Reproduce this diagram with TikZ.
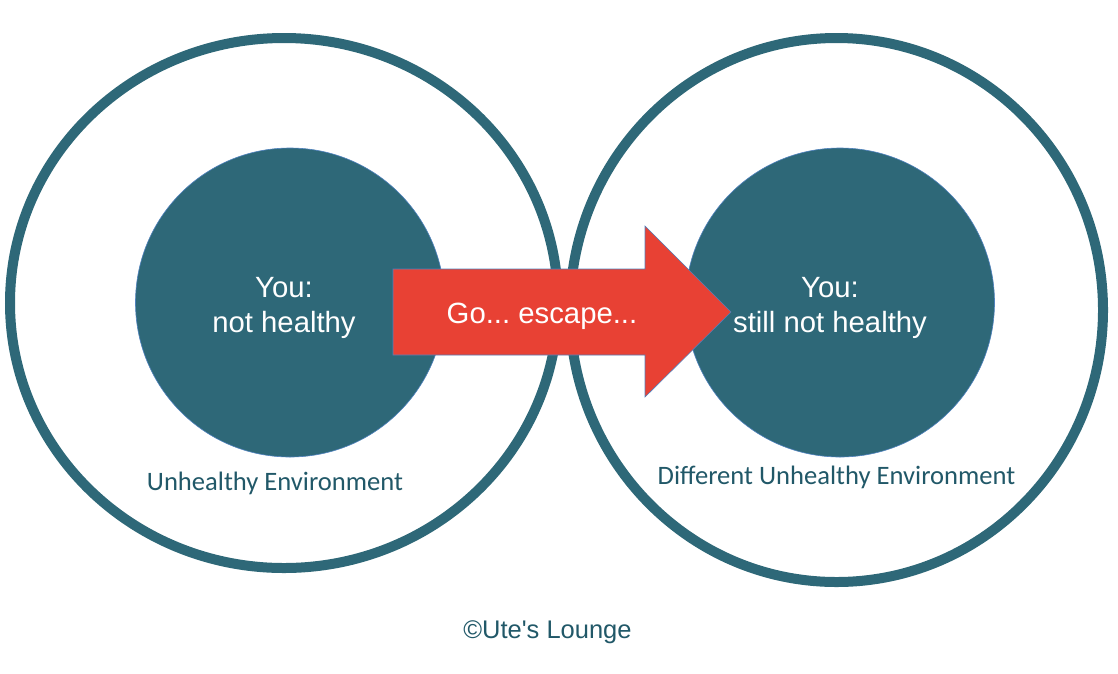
\documentclass[tikz,border=0pt]{standalone}
\usepackage{fontspec}
\setmainfont{Liberation Sans}
\newfontfamily\calibri{Carlito}
\usetikzlibrary{shapes.geometric,positioning}
\definecolor{envteal}{RGB}{46,104,120}
\definecolor{labteal}{RGB}{33,88,104}
\definecolor{escred}{RGB}{232,65,52}
\definecolor{rimblue}{RGB}{79,129,189}
\tikzstyle{ring} = [ellipse, draw=envteal, line width=10pt, inner sep=0pt]
\tikzstyle{core} = [circle, draw=rimblue, line width=0.6pt, fill=envteal, inner sep=0pt, minimum size=309pt]
\tikzstyle{voice} = [text=white, font=\fontsize{29.3}{35}\selectfont, align=center]
\tikzstyle{envlabel} = [text=labteal, font=\calibri\fontsize{26.6}{31}\selectfont, anchor=base]
\frenchspacing

\begin{document}
\begin{tikzpicture}[x=1pt, y=-1pt]
    \useasboundingbox (0,0) rectangle (1118,673);

    % environments
    \node[ring, minimum width=548pt, minimum height=530pt] (envL) at (284,303) {};
    \node[ring, minimum width=533pt, minimum height=544pt] (envR) at (836.5,310) {};

    % you
    \node[core] (youL) at (290,302.5) {};
    \node[core] (youR) at (840,302.5) {};

    % arrow
    \coordinate (tail) at (393,312);
    \coordinate (tip) at (731,312);
    \draw[draw=rimblue, line width=0.6pt, fill=escred]
        (tail |- 0,269) -- (645,269) -- (645,226) -- (tip) -- (645,397) -- (645,355) -- (tail |- 0,355) -- cycle;
    \node[voice] (go) at (542,316) {Go... escape...};

    % texts
    \node[voice] (youLtxt) at (284,308) {You:\\not healthy};
    \node[voice] (youRtxt) at (830,308) {You:\\still not healthy};
    \node[envlabel] (envLtxt) at (275,490) {Unhealthy Environment};
    \node[envlabel] (envRtxt) at (836.5,484) {Different Unhealthy Environment};
    \node[text=labteal, font=\fontsize{25.5}{30}\selectfont, anchor=base] (credit) at (547.5,638) {©Ute\textquotesingle s Lounge};
\end{tikzpicture}
\end{document}
